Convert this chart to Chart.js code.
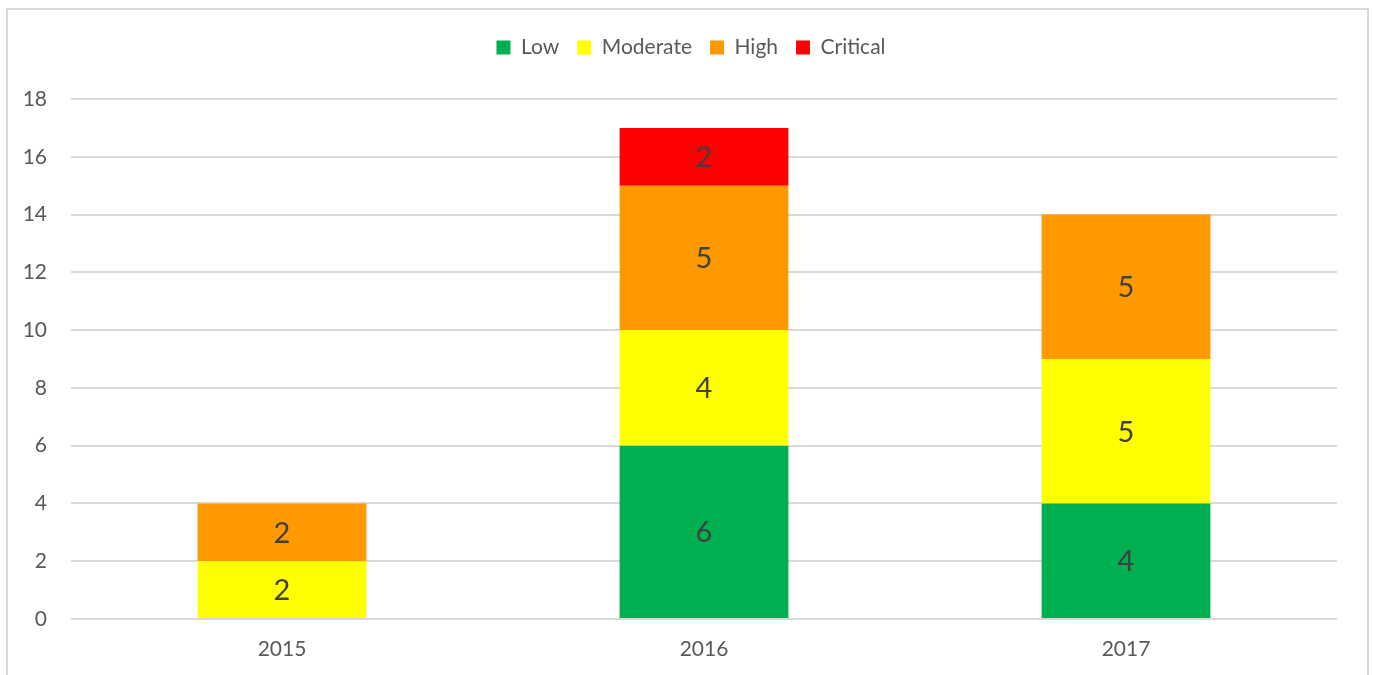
<!DOCTYPE html>
<html>
<head>
<meta charset="utf-8">
<script src="https://cdn.jsdelivr.net/npm/chart.js@4/dist/chart.umd.min.js"></script>
<style>
  html, body { margin: 0; padding: 0; background: #fff; overflow: hidden; }
  #wrap { position: relative; width: 1373px; height: 675px; }
  #frame { position: absolute; left: 6px; top: 8px; width: 1359px; height: 700px;
           border: 2px solid #d9d9d9; pointer-events: none; }
</style>
</head>
<body>
<div id="wrap">
  <canvas id="chart" width="1373" height="675"></canvas>
  <div id="frame"></div>
</div>
<script>
// data
const years = ["2015", "2016", "2017"];
const lowVals = [0, 6, 4];
const moderateVals = [2, 4, 5];
const highVals = [2, 5, 5];
const criticalVals = [0, 2, 0];
const yTicks = [0, 2, 4, 6, 8, 10, 12, 14, 16, 18];

const textGray = "#595959";
const fontFam = "Lato, 'Open Sans', sans-serif";

// labels inside each stacked piece
const valueLabels = {
  id: "valueLabels",
  afterDatasetsDraw(chart) {
    const ctx = chart.ctx;
    ctx.save();
    ctx.font = "29px " + fontFam;
    ctx.fillStyle = "#404040";
    ctx.textAlign = "center";
    ctx.textBaseline = "middle";
    chart.data.datasets.forEach((ds, i) => {
      const meta = chart.getDatasetMeta(i);
      meta.data.forEach((bar, j) => {
        const v = ds.data[j];
        if (!v) return;
        ctx.fillText(String(v), bar.x, (bar.y + bar.base) / 2 + 1);
      });
    });
    ctx.restore();
  }
};

// extra room under the legend
const legendGap = {
  id: "legendGap",
  beforeUpdate(chart) {
    const lg = chart.legend;
    if (!lg || lg._gapPatched) return;
    const fit = lg.fit;
    lg.fit = function () { fit.call(this); this.height += 31; };
    lg._gapPatched = true;
  }
};

new Chart(document.getElementById("chart"), {
  type: "bar",
  data: {
    labels: years,
    datasets: [
      { label: "Low", data: lowVals, backgroundColor: "#00b050" },
      { label: "Moderate", data: moderateVals, backgroundColor: "#ffff00" },
      { label: "High", data: highVals, backgroundColor: "#ff9900" },
      { label: "Critical", data: criticalVals, backgroundColor: "#ff0000" }
    ]
  },
  options: {
    responsive: false,
    animation: false,
    layout: { padding: { left: 9, right: 0, top: 19, bottom: 0 } },
    datasets: {
      bar: { categoryPercentage: 1, barPercentage: 0.4, borderWidth: 0 }
    },
    scales: {
      x: {
        stacked: true,
        grid: { display: false, drawTicks: false },
        border: { display: false },
        ticks: { color: textGray, font: { family: fontFam, size: 21 }, padding: 18 },
        afterFit: s => { s.height = 56; }
      },
      y: {
        stacked: true,
        min: 0,
        max: 18,
        afterBuildTicks: s => { s.ticks = yTicks.map(v => ({ value: v })); },
        grid: { color: "#d9d9d9", lineWidth: 2, drawTicks: false },
        border: { display: false },
        ticks: { color: textGray, font: { family: fontFam, size: 21 }, padding: 24 },
        afterFit: s => { s.width = 62; }
      },
      yRight: {
        position: "right",
        grid: { display: false, drawTicks: false },
        border: { display: false },
        ticks: { display: false },
        afterFit: s => { s.width = 36; }
      }
    },
    plugins: {
      legend: {
        position: "top",
        labels: {
          color: textGray,
          font: { family: fontFam, size: 21 },
          boxWidth: 14,
          boxHeight: 14,
          padding: 18
        }
      },
      tooltip: { enabled: false }
    }
  },
  plugins: [valueLabels, legendGap]
});
</script>
</body>
</html>
